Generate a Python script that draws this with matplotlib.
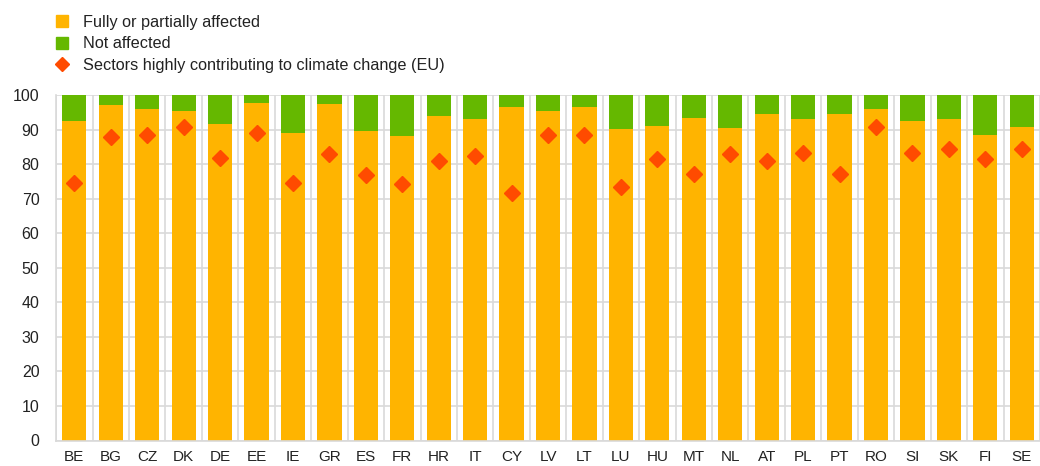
import matplotlib
matplotlib.use("Agg")
import matplotlib.pyplot as plt
from matplotlib.lines import Line2D
import numpy as np

countries = ["BE", "BG", "CZ", "DK", "DE", "EE", "IE", "GR", "ES", "FR", "HR", "IT", "CY",
             "LV", "LT", "LU", "HU", "MT", "NL", "AT", "PL", "PT", "RO", "SI", "SK", "FI", "SE"]
affected = [92.6, 97.3, 95.9, 95.5, 91.8, 97.8, 89.2, 97.4, 89.6, 88.2, 94.0, 93.0, 96.7,
            95.5, 96.7, 90.1, 91.2, 93.3, 90.4, 94.5, 93.0, 94.5, 95.9, 92.6, 93.0, 88.6, 90.8]
not_affected = [100 - a for a in affected]
sectors_eu = [74.7, 87.8, 88.6, 90.7, 81.8, 89.2, 74.7, 82.9, 76.9, 74.4, 81.1, 82.3, 71.8,
              88.5, 88.6, 73.5, 81.5, 77.3, 82.9, 81.1, 83.3, 77.3, 90.8, 83.3, 84.4, 81.5, 84.4]
yticks = list(range(0, 101, 10))

c_aff = "#FFB400"
c_not = "#65B800"
c_dia = "#FF4B00"
c_grid = "#D9D9D9"

plt.rcParams["font.family"] = ["Liberation Sans", "DejaVu Sans"]

fig = plt.figure(figsize=(10.4, 4.66), dpi=100)
ax = fig.add_axes([56.1 / 1040, 1 - 440.5 / 466, 1 - 56.1 / 1040, (440.5 - 95.3) / 466])

x = np.arange(len(countries))
ax.bar(x, affected, width=0.665, color=c_aff, zorder=2)
ax.bar(x, not_affected, bottom=affected, width=0.665, color=c_not, zorder=2)
ax.plot(x, sectors_eu, linestyle="none", marker="D", markersize=8,
        color=c_dia, zorder=3)

ax.set_ylim(0, 100)
ax.set_xlim(-0.5, (1040 - 56.1) / 36.77 - 0.5)
ax.set_yticks(yticks)
ax.set_xticks(x)
ax.set_xticklabels(countries)
ax.set_xticks(np.arange(-0.5, len(countries), 1.0), minor=True)
ax.grid(axis="y", which="major", color=c_grid, linewidth=1.2, zorder=0)
ax.grid(axis="x", which="minor", color=c_grid, linewidth=1.2, zorder=0)
ax.grid(axis="x", which="major", visible=False)
ax.set_axisbelow(True)
for s in ["top", "right"]:
    ax.spines[s].set_visible(False)
ax.spines["left"].set_color(c_grid)
ax.spines["bottom"].set_color(c_grid)
ax.spines["left"].set_linewidth(1.2)
ax.spines["bottom"].set_linewidth(1.2)
ax.tick_params(axis="both", which="both", length=0, colors="#222222")
ax.tick_params(axis="y", pad=12, labelsize=11.5)
ax.tick_params(axis="x", pad=7, labelsize=11)

handles = [
    Line2D([], [], linestyle="none", marker="s", markersize=8.8, color=c_aff),
    Line2D([], [], linestyle="none", marker="s", markersize=8.8, color=c_not),
    Line2D([], [], linestyle="none", marker="D", markersize=7.5, color=c_dia),
]
labels = ["Fully or partially affected", "Not affected",
          "Sectors highly contributing to climate change (EU)"]
fig.legend(handles, labels, loc="upper left", bbox_to_anchor=(54 / 1040, 1 - 14.5 / 466),
           frameon=False, fontsize=11.7, handlelength=1.0, handletextpad=0.8,
           labelspacing=0.42, borderaxespad=0, borderpad=0, labelcolor="#222222")

fig.savefig("out.png", dpi=100)
